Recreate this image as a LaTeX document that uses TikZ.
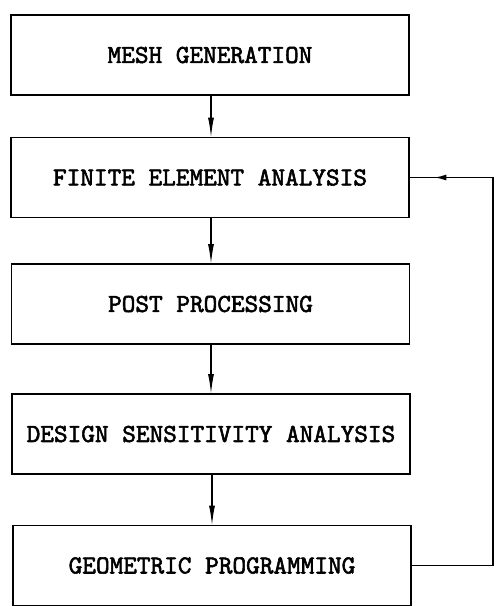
\documentclass[tikz,border=0pt]{standalone}
\usepackage{fontspec}
\newfontfamily\boxfont{lmmono10-regular.otf}[FakeBold=2.2]
\usetikzlibrary{arrows.meta,decorations.markings}
\begin{document}
\begin{tikzpicture}[x=1pt,y=-1pt,
  stagebox/.style={draw,line width=1.2pt,minimum width=398pt,minimum height=80pt,inner sep=0pt,
    font=\boxfont\fontsize{26}{28}\selectfont},
  flow/.style={line width=1.3pt,-{Latex[length=20pt,width=6pt]}},
  back/.style={line width=1.3pt,postaction={decorate},
    decoration={markings,mark=at position 0.955 with {\arrow{Latex[length=12pt,width=6pt]}}}}]
\useasboundingbox (0,0) rectangle (498,606);
\node[stagebox] (mesh) at (210,55) {MESH GENERATION};
\node[stagebox] (fea) at (210,177.5) {FINITE ELEMENT ANALYSIS};
\node[stagebox] (post) at (210.5,304) {POST PROCESSING};
\node[stagebox] (dsa) at (211,434) {DESIGN SENSITIVITY ANALYSIS};
\node[stagebox] (geo) at (212,565.5) {GEOMETRIC PROGRAMMING};
\coordinate (cb) at (493,565.5);
\coordinate (ct) at (493,177.5);
\draw[flow] (211,95.5) -- (211,137.5);
\draw[flow] (211,217.5) -- (211,264);
\draw[flow] (211,344) -- (211,394);
\draw[flow] (212,474) -- (212,525.5);
\draw[back] (geo.east) -- (cb) -- (ct) -- (fea.east);
\end{tikzpicture}
\end{document}
